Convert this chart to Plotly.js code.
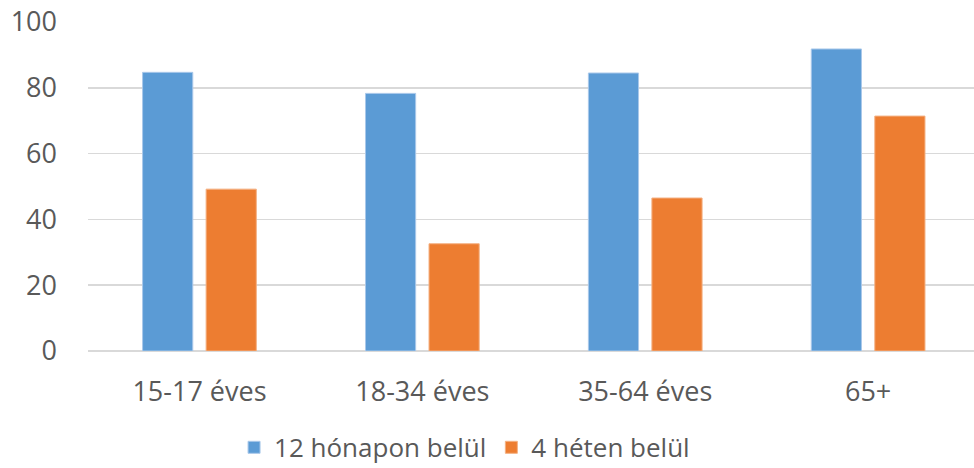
<!DOCTYPE html>
<html>
<head>
<meta charset="utf-8">
<script src="https://cdn.plot.ly/plotly-3.0.1.min.js"></script>
<style>
  html, body { margin: 0; padding: 0; background: #fff; }
  #chart { width: 974px; height: 468px; }
</style>
</head>
<body>
<div id="chart"></div>
<script>
const categories = ["15-17 éves", "18-34 éves", "35-64 éves", "65+"];
const within12Months = [84.7, 78.3, 84.5, 91.8];
const within4Weeks = [49.2, 32.6, 46.5, 71.4];
const yTicks = [0, 20, 40, 60, 80, 100];

const font = "'Open Sans', 'Liberation Sans', sans-serif";

const traces = [
  {
    type: "bar",
    name: "12 hónapon belül",
    x: categories,
    y: within12Months,
    marker: { color: "#5b9bd5", line: { color: "#a9c8ea", width: 1 } },
    hoverinfo: "y"
  },
  {
    type: "bar",
    name: "4 héten belül",
    x: categories,
    y: within4Weeks,
    marker: { color: "#ed7d31", line: { color: "#f4b183", width: 1 } },
    hoverinfo: "y"
  }
];

const layout = {
  width: 974,
  height: 468,
  margin: { l: 88, r: 0, t: 22, b: 117, autoexpand: false },
  paper_bgcolor: "#fff",
  plot_bgcolor: "#fff",
  font: { family: font, size: 27, color: "#595959" },
  barmode: "group",
  bargap: 0.43,
  bargroupgap: 0.21,
  showlegend: true,
  legend: {
    orientation: "h",
    x: 0.425,
    xanchor: "center",
    y: -0.293,
    yanchor: "middle",
    font: { size: 26, color: "#595959" },
    traceorder: "normal"
  },
  xaxis: {
    type: "category",
    range: [-0.5, 3.475],
    automargin: false,
    showgrid: false,
    zeroline: false,
    showline: false,
    ticks: "",
    ticklabelstandoff: 22,
    tickfont: { size: 27, color: "#595959" }
  },
  yaxis: {
    range: [0, 100],
    automargin: false,
    tickvals: yTicks,
    showgrid: true,
    gridcolor: "#d9d9d9",
    gridwidth: 1.5,
    zeroline: true,
    zerolinecolor: "#d9d9d9",
    zerolinewidth: 1.5,
    showline: false,
    ticks: "",
    ticklabelstandoff: 30,
    tickfont: { size: 27, color: "#595959" }
  }
};

Plotly.newPlot("chart", traces, layout, { displayModeBar: false, staticPlot: true });
</script>
</body>
</html>
